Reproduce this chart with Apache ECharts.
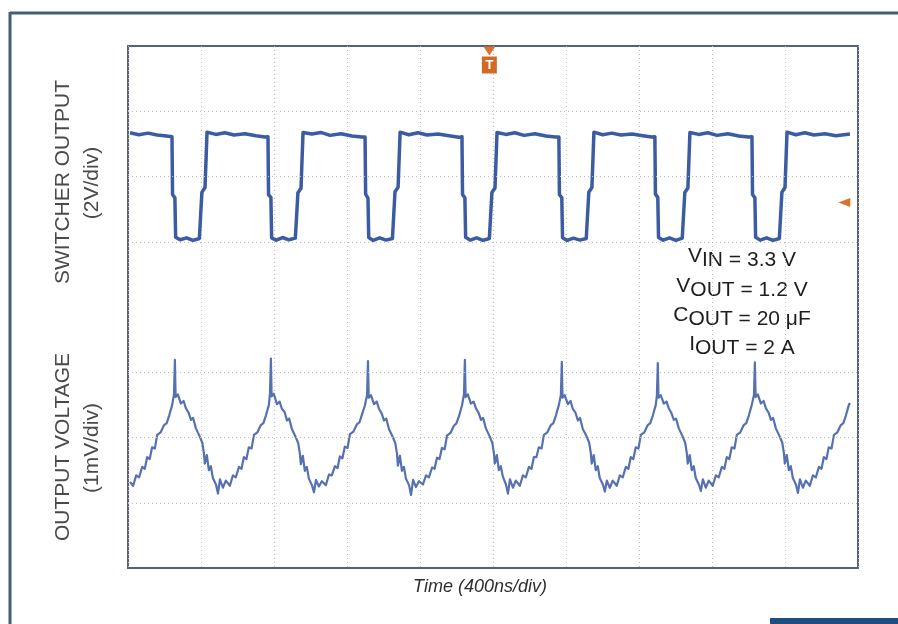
<!DOCTYPE html>
<html>
<head>
<meta charset="utf-8">
<script src="https://cdn.jsdelivr.net/npm/echarts@6/dist/echarts.min.js"></script>
<style>
html, body { margin: 0; padding: 0; background: #fff; }
#scope { width: 898px; height: 624px; }
</style>
</head>
<body>
<div id="scope"></div>
<script>
// time axis: 400 ns/div, 10 divisions
var timeMin = 0;
var timeMax = 4000;
var timeStep = 400;

// switcher output, [ns, V]  (2 V/div)
var switcherTrace = [
    [11, 3.34], [60, 3.28], [110, 3.33], [160, 3.27], [210, 3.24],
    [241, 3.22], [244, 1.45], [257, 1.35], [261, 0.14], [286, 0.06], [321, 0.12], [356, 0.04], [391, 0.10], [400, 0.08], [405, 1.52], [422, 1.66], [433, 3.36], [481, 3.29], [531, 3.34], [581, 3.27], [641, 3.31], [701, 3.25], [751, 3.21],
    [767, 3.22], [770, 1.44], [783, 1.36], [787, 0.12], [812, 0.05], [847, 0.13], [882, 0.06], [917, 0.11], [926, 0.07], [931, 1.50], [948, 1.64], [959, 3.35], [1007, 3.30], [1057, 3.35], [1107, 3.26], [1167, 3.31], [1227, 3.24], [1280, 3.21],
    [1299, 3.21], [1302, 1.46], [1315, 1.34], [1319, 0.13], [1344, 0.04], [1379, 0.12], [1414, 0.05], [1449, 0.10], [1458, 0.07], [1463, 1.53], [1480, 1.67], [1491, 3.36], [1539, 3.28], [1589, 3.34], [1639, 3.27], [1699, 3.30], [1759, 3.25], [1812, 3.20],
    [1830, 3.22], [1833, 1.45], [1846, 1.35], [1850, 0.14], [1875, 0.05], [1910, 0.12], [1945, 0.04], [1980, 0.10], [1989, 0.08], [1994, 1.51], [2011, 1.65], [2022, 3.35], [2070, 3.29], [2120, 3.34], [2170, 3.26], [2230, 3.31], [2290, 3.24], [2343, 3.21],
    [2361, 3.21], [2364, 1.44], [2377, 1.35], [2381, 0.12], [2406, 0.04], [2441, 0.11], [2476, 0.05], [2511, 0.10], [2520, 0.07], [2525, 1.52], [2542, 1.66], [2553, 3.36], [2601, 3.28], [2651, 3.33], [2701, 3.27], [2761, 3.30], [2821, 3.25], [2870, 3.21],
    [2887, 3.22], [2890, 1.46], [2903, 1.36], [2907, 0.13], [2932, 0.05], [2967, 0.12], [3002, 0.04], [3037, 0.11], [3046, 0.08], [3051, 1.51], [3068, 1.65], [3079, 3.35], [3127, 3.29], [3177, 3.34], [3227, 3.26], [3287, 3.31], [3347, 3.24], [3400, 3.21],
    [3419, 3.22], [3422, 1.45], [3435, 1.35], [3439, 0.14], [3464, 0.05], [3499, 0.12], [3534, 0.04], [3569, 0.10], [3578, 0.07], [3583, 1.52], [3600, 1.66], [3611, 3.36], [3659, 3.28], [3709, 3.34], [3759, 3.27], [3819, 3.31], [3879, 3.25], [3956, 3.30]
];

// output voltage ripple, mV (1 mV/div)
var rippleStart = [
    [11, -0.68], [28, -0.74], [45, -0.58], [61, -0.61], [78, -0.45], [92, -0.48], [105, -0.30], [119, -0.33],
    [132, -0.15], [147, -0.17], [160, 0.04], [179, 0.08], [198, 0.19], [212, 0.22], [226, 0.34], [242, 0.50]
];
// ns of each switching spike
var ripplePeaks = [257, 783, 1315, 1846, 2377, 2903, 3435];
// each cycle: [ns after spike, mV]
var rippleCycle1 = [[-5, 0.66], [0, 1.19], [4, 0.62], [16, 0.66], [33, 0.52], [48, 0.56], [60, 0.45], [75, 0.38], [88, 0.27], [100, 0.30], [115, 0.14], [137, 0.01], [150, -0.08], [159, -0.24], [164, -0.40], [175, -0.27], [186, -0.50], [197, -0.44], [208, -0.62], [225, -0.72], [236, -0.86], [247, -0.64], [263, -0.77], [279, -0.66], [301, -0.74], [318, -0.58], [334, -0.61], [351, -0.45], [365, -0.48], [378, -0.30], [392, -0.33], [405, -0.15], [420, -0.17], [433, 0.04], [452, 0.08], [471, 0.19], [485, 0.22], [499, 0.34], [515, 0.50]];
var rippleCycle2 = [[-5, 0.68], [0, 1.21], [4, 0.63], [16, 0.67], [33, 0.51], [48, 0.55], [60, 0.44], [75, 0.39], [88, 0.26], [100, 0.29], [115, 0.13], [137, 0.00], [150, -0.09], [159, -0.25], [164, -0.41], [175, -0.28], [186, -0.51], [197, -0.45], [208, -0.63], [225, -0.73], [236, -0.84], [247, -0.65], [263, -0.75], [279, -0.67], [301, -0.73], [318, -0.57], [334, -0.58], [351, -0.44], [365, -0.47], [378, -0.29], [392, -0.32], [405, -0.14], [420, -0.16], [433, 0.05], [452, 0.09], [471, 0.20], [485, 0.23], [499, 0.35], [515, 0.49]];
var rippleCycle3 = [[-5, 0.65], [0, 1.17], [4, 0.61], [16, 0.65], [33, 0.51], [48, 0.55], [60, 0.44], [75, 0.37], [88, 0.26], [100, 0.29], [115, 0.13], [137, 0.00], [150, -0.09], [159, -0.25], [164, -0.43], [175, -0.28], [186, -0.51], [197, -0.45], [208, -0.63], [225, -0.73], [236, -0.88], [247, -0.65], [263, -0.76], [279, -0.67], [301, -0.72], [318, -0.58], [334, -0.61], [351, -0.46], [365, -0.48], [378, -0.31], [392, -0.33], [405, -0.16], [420, -0.18], [433, 0.03], [452, 0.07], [471, 0.18], [485, 0.22], [499, 0.33], [515, 0.49]];
var rippleCycle4 = [[-5, 0.66], [0, 1.19], [4, 0.62], [16, 0.66], [33, 0.52], [48, 0.55], [60, 0.45], [75, 0.38], [88, 0.27], [100, 0.30], [115, 0.14], [137, 0.01], [150, -0.08], [159, -0.24], [164, -0.40], [175, -0.27], [186, -0.50], [197, -0.44], [208, -0.60], [225, -0.72], [236, -0.86], [247, -0.64], [263, -0.77], [279, -0.66], [301, -0.74], [318, -0.58], [334, -0.61], [351, -0.45], [365, -0.48], [378, -0.30], [392, -0.30], [405, -0.15], [420, -0.17], [433, 0.04], [452, 0.08], [471, 0.19], [485, 0.22], [499, 0.34], [515, 0.50]];
var rippleCycle5 = [[-5, 0.65], [0, 1.16], [4, 0.61], [16, 0.65], [33, 0.51], [48, 0.56], [60, 0.44], [75, 0.38], [88, 0.26], [100, 0.30], [115, 0.13], [137, 0.01], [150, -0.08], [159, -0.24], [164, -0.40], [175, -0.27], [186, -0.50], [197, -0.44], [208, -0.62], [225, -0.72], [236, -0.83], [247, -0.66], [263, -0.77], [279, -0.66], [301, -0.74], [318, -0.58], [334, -0.61], [351, -0.45], [365, -0.48], [378, -0.30], [392, -0.33], [405, -0.15], [420, -0.17], [433, 0.04], [452, 0.08], [471, 0.19], [485, 0.22], [499, 0.34], [515, 0.50]];
var rippleCycle6 = [[-5, 0.64], [0, 1.14], [4, 0.61], [16, 0.65], [33, 0.52], [48, 0.55], [60, 0.45], [75, 0.37], [88, 0.27], [100, 0.29], [115, 0.14], [137, 0.01], [150, -0.08], [159, -0.24], [164, -0.40], [175, -0.27], [186, -0.50], [197, -0.44], [208, -0.62], [225, -0.72], [236, -0.82], [247, -0.64], [263, -0.77], [279, -0.66], [301, -0.74], [318, -0.58], [334, -0.61], [351, -0.45], [365, -0.48], [378, -0.30], [392, -0.33], [405, -0.15], [420, -0.17], [433, 0.04], [452, 0.08], [471, 0.19], [485, 0.22], [499, 0.34], [515, 0.50]];
var rippleCycle7 = [[-5, 0.65], [0, 1.15], [4, 0.62], [16, 0.66], [33, 0.52], [48, 0.56], [60, 0.45], [75, 0.38], [88, 0.27], [100, 0.30], [115, 0.14], [137, 0.01], [150, -0.08], [159, -0.24], [164, -0.40], [175, -0.27], [186, -0.50], [197, -0.44], [208, -0.62], [225, -0.72], [236, -0.85], [247, -0.64], [263, -0.77], [279, -0.66], [301, -0.74], [318, -0.58], [334, -0.61], [351, -0.45], [365, -0.48], [378, -0.30], [392, -0.33], [405, -0.15], [420, -0.17], [433, 0.04], [452, 0.08], [471, 0.19], [485, 0.22], [499, 0.34], [515, 0.50]];
var rippleCycles = [rippleCycle1, rippleCycle2, rippleCycle3, rippleCycle4, rippleCycle5, rippleCycle6, rippleCycle7];
var rippleEnd = [3956, 0.53];

// graticule rows (divisions from bottom) that are drawn
var gridRows = [1, 2, 3, 5, 6, 7];
// trigger time (ns) and trigger level (V)
var triggerTime = 1980;
var triggerLevel = 1.2;

var rippleData = rippleStart.slice();
ripplePeaks.forEach(function (peak, i) {
    rippleCycles[i].forEach(function (p) {
        rippleData.push([peak + p[0], p[1]]);
    });
});
rippleData.push(rippleEnd);

var labelFont = 'Liberation Sans, Arial, sans-serif';
var dotLine = { type: [1, 3], color: '#bcbcbc', width: 1 };

function paramLine(y, main, rest) {
    return {
        type: 'text',
        x: 742,
        y: y,
        style: {
            text: '{m|' + main + '}{r|' + rest + '}',
            align: 'center',
            verticalAlign: 'middle',
            fill: '#1e1e1e',
            rich: {
                m: { fontSize: 21, fontFamily: labelFont, color: '#1e1e1e', padding: [0, 0, 8, 0] },
                r: { fontSize: 21, fontFamily: labelFont, color: '#1e1e1e' }
            }
        }
    };
}

function sideLabel(x, y, text) {
    return {
        type: 'text',
        x: x,
        y: y,
        rotation: Math.PI / 2,
        style: {
            text: text,
            font: '21px ' + labelFont,
            fill: '#4a4a4a',
            align: 'center',
            verticalAlign: 'middle'
        }
    };
}

var scope = echarts.init(document.getElementById('scope'));
var scopeOption = {
    animation: false,
    backgroundColor: '#fff',
    grid: {
        left: 128,
        top: 46,
        width: 730,
        height: 522,
        show: true,
        borderColor: '#56607a',
        borderWidth: 2
    },
    xAxis: {
        type: 'value',
        min: timeMin,
        max: timeMax,
        interval: timeStep,
        axisLine: { show: false },
        axisTick: { show: false },
        axisLabel: { show: false },
        splitLine: { show: true, lineStyle: dotLine }
    },
    yAxis: [
        {
            type: 'value',
            min: -10,
            max: 6,
            interval: 2,
            axisLine: { show: false },
            axisTick: { show: false },
            axisLabel: { show: false },
            splitLine: { show: false }
        },
        {
            type: 'value',
            min: -2,
            max: 6,
            interval: 1,
            axisLine: { show: false },
            axisTick: { show: false },
            axisLabel: { show: false },
            splitLine: { show: false }
        }
    ],
    series: [
        {
            name: 'graticule',
            type: 'line',
            yAxisIndex: 1,
            data: [],
            z: 1,
            markLine: {
                silent: true,
                symbol: ['none', 'none'],
                label: { show: false },
                lineStyle: dotLine,
                data: gridRows.map(function (d) { return { yAxis: d - 2 }; })
            }
        },
        {
            name: 'SWITCHER OUTPUT',
            type: 'line',
            yAxisIndex: 0,
            data: switcherTrace,
            showSymbol: false,
            z: 3,
            lineStyle: { color: '#3b5ca2', width: 3.5, join: 'round' },
            markPoint: {
                silent: true,
                data: [
                    {
                        coord: [triggerTime, 6],
                        symbol: 'triangle',
                        symbolRotate: 180,
                        symbolSize: [12, 9],
                        symbolOffset: [0, 5],
                        itemStyle: { color: '#d8742c' },
                        label: { show: false }
                    },
                    {
                        coord: [triggerTime, 6],
                        symbol: 'rect',
                        symbolSize: [15, 17],
                        symbolOffset: [0, 19],
                        itemStyle: { color: '#d06a26' },
                        label: {
                            show: true,
                            position: 'inside',
                            formatter: 'T',
                            color: '#fff',
                            fontSize: 13,
                            fontWeight: 'bold',
                            fontFamily: labelFont
                        }
                    },
                    {
                        coord: [3925, triggerLevel],
                        symbol: 'triangle',
                        symbolRotate: 90,
                        symbolSize: [9, 12],
                        itemStyle: { color: '#d8742c' },
                        label: { show: false }
                    }
                ]
            }
        },
        {
            name: 'OUTPUT VOLTAGE',
            type: 'line',
            yAxisIndex: 1,
            data: rippleData,
            showSymbol: false,
            z: 3,
            lineStyle: { color: '#5571b2', width: 2.2, join: 'round' }
        }
    ],
    graphic: [
        { type: 'line', shape: { x1: 10, y1: 13, x2: 898, y2: 13 }, style: { stroke: '#3d6170', lineWidth: 3 } },
        { type: 'line', shape: { x1: 10, y1: 12, x2: 10, y2: 624 }, style: { stroke: '#3d6170', lineWidth: 3 } },
        { type: 'rect', shape: { x: 770, y: 618, width: 128, height: 6 }, style: { fill: '#1f4d80' } },
        sideLabel(63, 182, 'SWITCHER OUTPUT'),
        sideLabel(92, 183, '(2V/div)'),
        sideLabel(63, 447, 'OUTPUT VOLTAGE'),
        sideLabel(92, 448, '(1mV/div)'),
        {
            type: 'text',
            x: 480,
            y: 587,
            style: {
                text: 'Time (400ns/div)',
                font: 'italic 18px ' + labelFont,
                fill: '#2e2e2e',
                align: 'center',
                verticalAlign: 'middle'
            }
        },
        paramLine(260, 'V', 'IN = 3.3 V'),
        paramLine(290, 'V', 'OUT = 1.2 V'),
        paramLine(319, 'C', 'OUT = 20 \u03bcF'),
        paramLine(348, 'I', 'OUT = 2 A')
    ]
};
scope.setOption(scopeOption);

window.addEventListener('resize', function () {
    scope.resize();
});
</script>
</body>
</html>
